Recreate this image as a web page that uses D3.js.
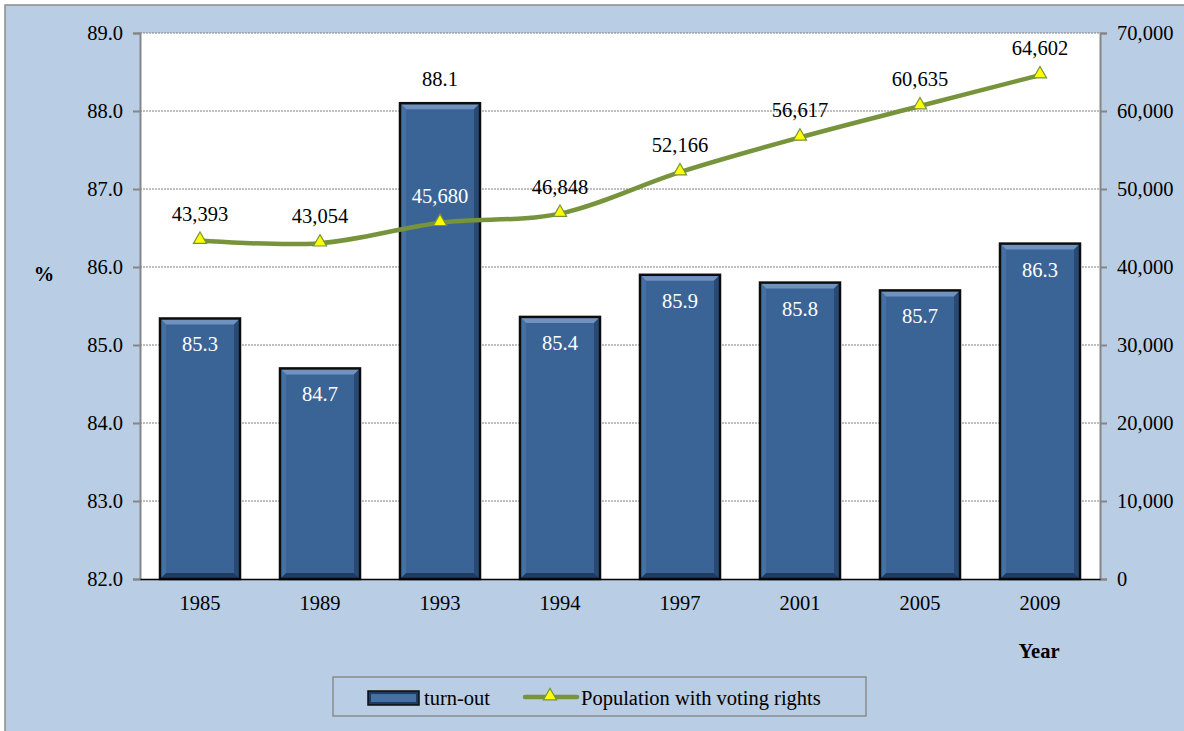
<!DOCTYPE html>
<meta charset="utf-8">
<style>
body { margin: 0; background: #fff; }
text { font-family: "Liberation Serif", "Times New Roman", serif; }
</style>
<body></body>
<script src="https://d3js.org/d3.v7.min.js"></script>
<script>

var years = ["1985", "1989", "1993", "1994", "1997", "2001", "2005", "2009"];
var turnout = [85.34, 84.7, 88.1, 85.36, 85.9, 85.8, 85.7, 86.3];
var population = [43393, 43054, 45680, 46848, 52166, 56617, 60635, 64602];
var leftTicks = [82, 83, 84, 85, 86, 87, 88, 89];
var rightTicks = [0, 10000, 20000, 30000, 40000, 50000, 60000, 70000];

var width = 1184, height = 731;
var m = {left: 140, right: 1100, top: 33, bottom: 579};
var fs = 20.5;

var svg = d3.select("body").append("svg")
    .attr("width", width)
    .attr("height", height);

svg.append("rect")
    .attr("x", 5).attr("y", 5)
    .attr("width", 1200).attr("height", 760)
    .attr("fill", "#b9cde5")
    .attr("stroke", "#8c8c8c").attr("stroke-width", 1.5);

svg.append("rect")
    .attr("x", m.left).attr("y", m.top)
    .attr("width", m.right - m.left).attr("height", m.bottom - m.top)
    .attr("fill", "#fff");

var x = d3.scaleBand().domain(years).range([m.left, m.right]).paddingInner(1/3).paddingOuter(1/6);
var y = d3.scaleLinear().domain([82, 89]).range([m.bottom, m.top]);
var y2 = d3.scaleLinear().domain([0, 70000]).range([m.bottom, m.top]);

// gridlines
svg.append("g").selectAll("line")
    .data(leftTicks.slice(1))
    .enter().append("line")
      .attr("x1", m.left).attr("x2", m.right)
      .attr("y1", function(d) { return y(d); })
      .attr("y2", function(d) { return y(d); })
      .attr("stroke", "#7f7f7f").attr("stroke-width", 1)
      .attr("stroke-dasharray", "2,1");

// left axis
var la = svg.append("g")
    .attr("transform", "translate(" + m.left + ",0)")
    .call(d3.axisLeft(y).tickValues(leftTicks).tickFormat(d3.format(".1f")).tickSize(7).tickPadding(10));
la.select(".domain").attr("stroke", "#868686").attr("stroke-width", 2);
la.selectAll(".tick line").attr("stroke", "#868686").attr("stroke-width", 2);
la.selectAll("text").attr("font-size", fs).attr("fill", "#000")
    .style("font-family", "Liberation Serif");

// right axis
var ra = svg.append("g")
    .attr("transform", "translate(" + m.right + ",0)")
    .call(d3.axisRight(y2).tickValues(rightTicks).tickFormat(d3.format(",")).tickSize(7).tickPadding(10));
ra.select(".domain").attr("stroke", "#868686").attr("stroke-width", 2);
ra.selectAll(".tick line").attr("stroke", "#868686").attr("stroke-width", 2);
ra.selectAll("text").attr("font-size", fs).attr("fill", "#000")
    .style("font-family", "Liberation Serif");

// bars with bevel
function bevelBar(g, bx, by, bw, bh) {
  var b = 6;
  g.append("rect").attr("x", bx).attr("y", by).attr("width", bw).attr("height", bh)
      .attr("fill", "#3b6496");
  g.append("polygon")
      .attr("points", [[bx, by], [bx + bw, by], [bx + bw - b, by + b], [bx + b, by + b]].join(" "))
      .attr("fill", "#6f92bf");
  g.append("polygon")
      .attr("points", [[bx, by], [bx + b, by + b], [bx + b, by + bh - b], [bx, by + bh]].join(" "))
      .attr("fill", "#4670a3");
  g.append("polygon")
      .attr("points", [[bx + bw, by], [bx + bw, by + bh], [bx + bw - b, by + bh - b], [bx + bw - b, by + b]].join(" "))
      .attr("fill", "#284a75");
  g.append("polygon")
      .attr("points", [[bx, by + bh], [bx + bw, by + bh], [bx + bw - b, by + bh - b], [bx + b, by + bh - b]].join(" "))
      .attr("fill", "#1f3c60");
  g.append("rect").attr("x", bx).attr("y", by).attr("width", bw).attr("height", bh)
      .attr("fill", "none").attr("stroke", "#0d0d0d").attr("stroke-width", 2.5);
}

var bars = svg.append("g");
years.forEach(function(yr, i) {
  bevelBar(bars, x(yr), y(turnout[i]), x.bandwidth(), y(82) - y(turnout[i]));
});

// bottom axis
var ba = svg.append("g")
    .attr("transform", "translate(0," + m.bottom + ")")
    .call(d3.axisBottom(x).tickSize(0).tickPadding(16));
ba.select(".domain").attr("stroke", "#000").attr("stroke-width", 1.5);
ba.selectAll("text").attr("font-size", fs).attr("fill", "#000")
    .style("font-family", "Liberation Serif");

var maxT = d3.max(turnout);
var fmt1 = d3.format(".1f");

// bar labels
svg.append("g").selectAll("text")
    .data(turnout)
    .enter().append("text")
      .attr("x", function(d, i) { return x(years[i]) + x.bandwidth() / 2; })
      .attr("y", function(d) { return d === maxT ? y(d) - 17 : y(d) + 33; })
      .attr("text-anchor", "middle")
      .attr("font-size", fs)
      .attr("fill", function(d) { return d === maxT ? "#000" : "#fff"; })
      .text(function(d) { return fmt1(d); });

// line
var line = d3.line()
    .x(function(d, i) { return x(years[i]) + x.bandwidth() / 2; })
    .y(function(d) { return y2(d); })
    .curve(d3.curveCardinal.tension(0));

svg.append("path")
    .datum(population)
    .attr("d", line)
    .attr("fill", "none")
    .attr("stroke", "#77933c")
    .attr("stroke-width", 4.5);

var tri = d3.symbol().type(d3.symbolTriangle).size(75);
svg.append("g").selectAll("path")
    .data(population)
    .enter().append("path")
      .attr("d", tri)
      .attr("transform", function(d, i) {
        return "translate(" + (x(years[i]) + x.bandwidth() / 2) + "," + (y2(d) - 1) + ")";
      })
      .attr("fill", "#ffff00")
      .attr("stroke", "#77933c")
      .attr("stroke-width", 1.2);

svg.append("g").selectAll("text")
    .data(population)
    .enter().append("text")
      .attr("x", function(d, i) { return x(years[i]) + x.bandwidth() / 2; })
      .attr("y", function(d) { return y2(d) - 20; })
      .attr("text-anchor", "middle")
      .attr("font-size", fs)
      .attr("fill", function(d, i) { return y2(d) - 20 > y(turnout[i]) ? "#fff" : "#000"; })
      .text(d3.format(","));

// axis titles
svg.append("text")
    .attr("x", 44).attr("y", 281)
    .attr("text-anchor", "middle")
    .attr("font-size", fs).attr("font-weight", "bold")
    .text("%");

svg.append("text")
    .attr("x", 1039).attr("y", 658)
    .attr("text-anchor", "middle")
    .attr("font-size", fs).attr("font-weight", "bold")
    .text("Year");

// legend
var lg = svg.append("g");
lg.append("rect")
    .attr("x", 333).attr("y", 677).attr("width", 533).attr("height", 39)
    .attr("fill", "#b9cde5").attr("stroke", "#8c8c8c").attr("stroke-width", 1.5);
lg.append("rect").attr("x", 368).attr("y", 691).attr("width", 51).attr("height", 14)
    .attr("fill", "#1f3c60");
lg.append("rect").attr("x", 371).attr("y", 694).attr("width", 45).attr("height", 8)
    .attr("fill", "#4670a3");
lg.append("rect").attr("x", 368).attr("y", 691).attr("width", 51).attr("height", 14)
    .attr("fill", "none").attr("stroke", "#0d0d0d").attr("stroke-width", 1.5);
lg.append("text").attr("x", 424).attr("y", 705).attr("font-size", fs).text("turn-out");
lg.append("line")
    .attr("x1", 525).attr("x2", 577).attr("y1", 697).attr("y2", 697)
    .attr("stroke", "#77933c").attr("stroke-width", 4.5).attr("stroke-linecap", "round");
lg.append("path").attr("d", tri)
    .attr("transform", "translate(550,696)")
    .attr("fill", "#ffff00").attr("stroke", "#77933c").attr("stroke-width", 1.2);
lg.append("text").attr("x", 581).attr("y", 705).attr("font-size", fs).text("Population with voting rights");

</script>
